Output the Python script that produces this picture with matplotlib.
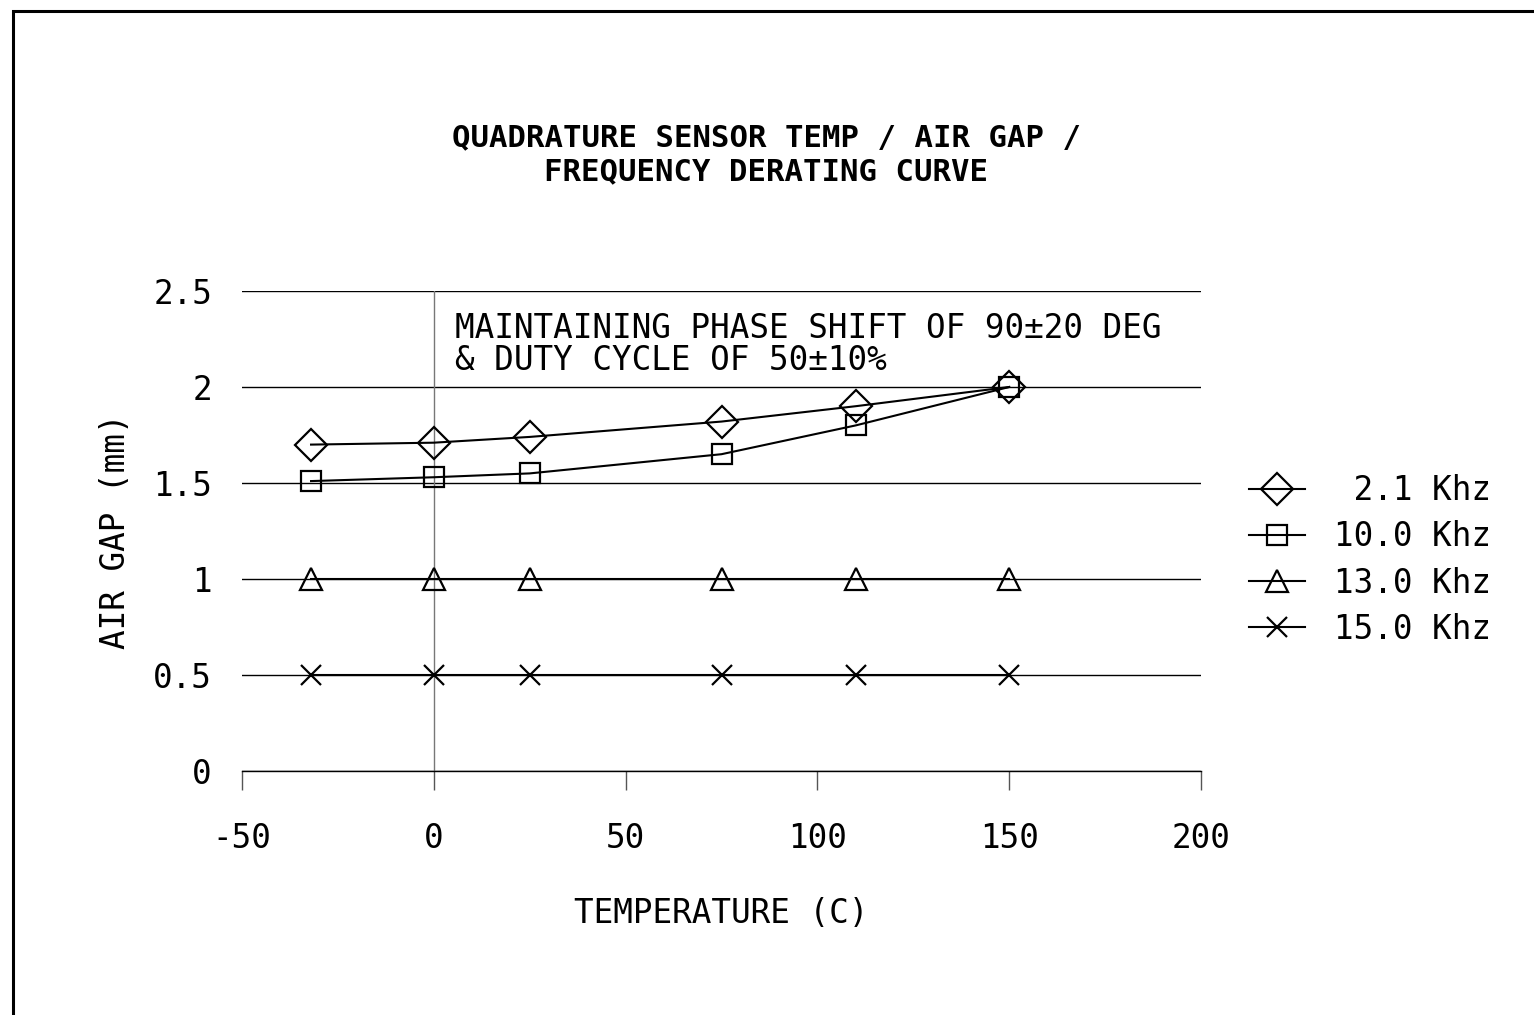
import matplotlib
matplotlib.use("Agg")
import matplotlib.pyplot as plt
from matplotlib.patches import Rectangle

# readings taken off the derating chart
temps = [-32, 0, 25, 75, 110, 150]
gap_2_1 = [1.70, 1.71, 1.74, 1.82, 1.90, 2.00]
gap_10_0 = [1.51, 1.53, 1.55, 1.65, 1.80, 2.00]
gap_13_0 = [1.00, 1.00, 1.00, 1.00, 1.00, 1.00]
gap_15_0 = [0.50, 0.50, 0.50, 0.50, 0.50, 0.50]

labels = [" 2.1 Khz", "10.0 Khz", "13.0 Khz", "15.0 Khz"]
markers = ["D", "s", "^", "x"]
sizes = [16.5, 14.0, 16.0, 14.4]

x_ticks = [-50, 0, 50, 100, 150, 200]
y_ticks = [0, 0.5, 1, 1.5, 2, 2.5]
y_tick_labels = ["0", "0.5", "1", "1.5", "2", "2.5"]

plt.rcParams['font.family'] = ['DejaVu Sans Mono', 'DejaVu Sans']
plt.rcParams['axes.unicode_minus'] = False
fs = 23.5

fig = plt.figure(figsize=(15.34, 10.15), dpi=100)
ax = fig.add_axes([242 / 1534, 1 - 771 / 1015, 959 / 1534, 480 / 1015])

series = [gap_2_1, gap_10_0, gap_13_0, gap_15_0]
for vals, lab, m, ms in zip(series, labels, markers, sizes):
    ax.plot(temps, vals, color='black', lw=1.5, marker=m, ms=ms,
            mfc='none', mec='black', mew=1.6, label=lab, zorder=3)

ax.axvline(0, color='#777777', lw=1, zorder=1)

ax.set_xlim(-50, 200)
ax.set_ylim(0, 2.5)
ax.set_xticks(x_ticks)
ax.set_yticks(y_ticks)
ax.set_yticklabels(y_tick_labels)
ax.yaxis.grid(True, color='black', lw=1)
ax.set_axisbelow(True)

for side in ['left', 'right', 'top']:
    ax.spines[side].set_visible(False)
ax.spines['bottom'].set_linewidth(1)

ax.tick_params(axis='x', direction='out', length=13.7, width=1,
               color='#555555', pad=23, labelsize=fs)
ax.tick_params(axis='y', length=0, pad=21.6, labelsize=fs)

ax.set_xlabel("TEMPERATURE (C)", fontsize=fs)
ax.xaxis.set_label_coords(0.5, -0.262)
ax.set_ylabel("AIR GAP (mm)", fontsize=fs)
ax.yaxis.set_label_coords(-0.115, 0.5)

ax.text(5.5, 2.39, "MAINTAINING PHASE SHIFT OF 90\u00b120 DEG\n& DUTY CYCLE OF 50\u00b110%",
        fontsize=fs, ha='left', va='top', linespacing=0.95)

fig.text(766 / 1534, 1 - 155 / 1015,
         "QUADRATURE SENSOR TEMP / AIR GAP /\nFREQUENCY DERATING CURVE",
         fontsize=22.1, fontweight='bold', ha='center', va='center',
         multialignment='center', linespacing=1.22)

fig.legend(loc='center left', bbox_to_anchor=(1249 / 1534, 1 - 560 / 1015),
           frameon=False, fontsize=fs, handlelength=1.73, handletextpad=0.88,
           labelspacing=0.40, borderpad=0, borderaxespad=0)

# drawing border, runs off the right and bottom of the sheet
fig.add_artist(Rectangle((13 / 1534, -0.2), 1.2, 1.2 - 11 / 1015,
                         transform=fig.transFigure, fill=False,
                         ec='black', lw=2.2, clip_on=False))

fig.savefig("out.png", dpi=100)
